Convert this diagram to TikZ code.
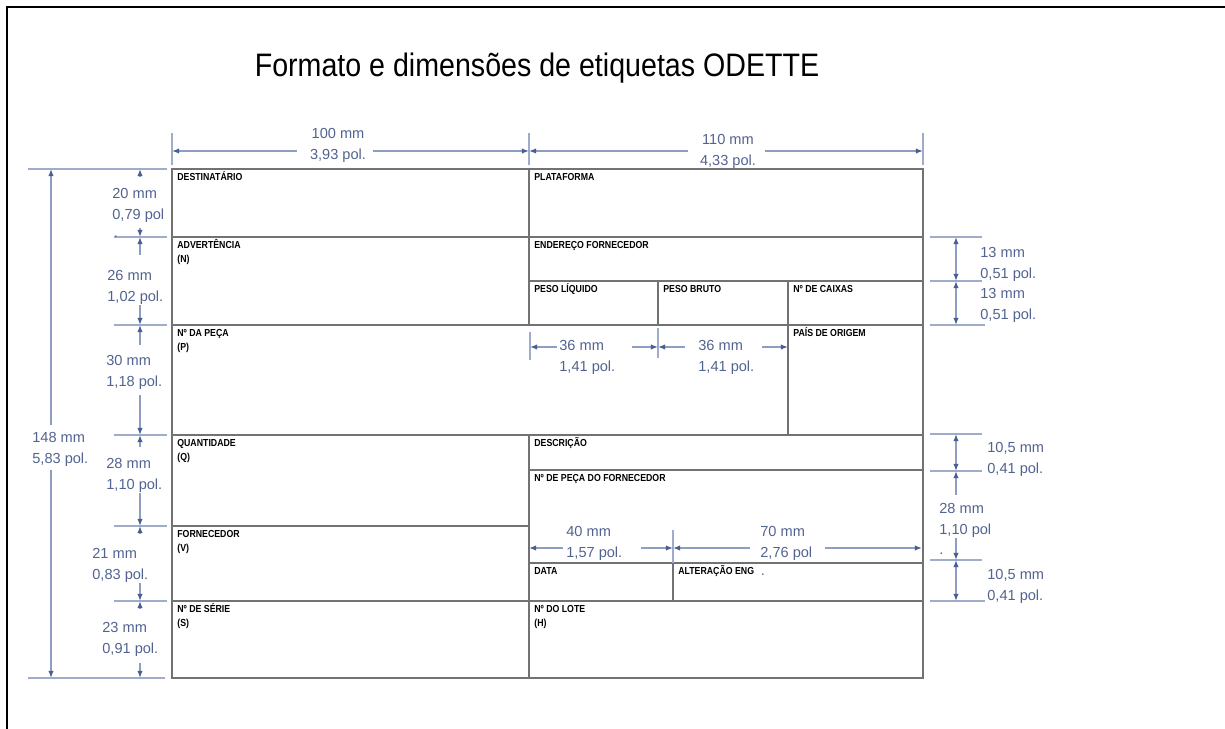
\documentclass[tikz,border=0pt]{standalone}
\usepackage{fontspec}
\setmainfont{Liberation Sans}
\newfontfamily\fieldfont{Liberation Sans}[FakeStretch=0.86]
\newfontfamily\headfont{Liberation Sans}[FakeStretch=0.88]
\usetikzlibrary{arrows.meta,calc,positioning}

\definecolor{cellgray}{HTML}{727272}
\definecolor{dimline}{HTML}{8E9DC1}
\definecolor{dimtip}{HTML}{4B5E92}
\definecolor{dimfont}{HTML}{52638F}

\tikzset{
  cell/.style={draw=cellgray,line width=1.2pt},
  field/.style={anchor=north west,inner sep=0pt,align=left,
    font=\fieldfont\bfseries\fontsize{5.8}{8}\selectfont},
  measure/.style={anchor=north west,inner sep=0pt,align=left,text=dimfont,
    font=\fontsize{8.3}{11.8}\selectfont},
  extline/.style={draw=dimline!85,line width=0.6pt},
  dimarrow/.style={draw=dimline,line width=0.7pt,
    -{Latex[length=4pt,width=3pt,color=dimtip]}},
  dimboth/.style={dimarrow,
    {Latex[length=4pt,width=3pt,color=dimtip]}-{Latex[length=4pt,width=3pt,color=dimtip]}}
}

\begin{document}
\begin{tikzpicture}[x=0.02cm,y=-0.02cm]
\useasboundingbox (0,0) rectangle (1225,729);

% page frame and title
\draw[line width=1.7pt] (7,735) -- (7,7) -- (1230,7);
\node[font=\headfont\fontsize{18.5}{22}\selectfont,anchor=base,inner sep=0pt]
  (title) at (537,77) {Formato e dimensões de etiquetas ODETTE};

% label grid
\coordinate (tl) at (172,169);
\coordinate (br) at (923,678);
\draw[cell] (tl) rectangle (br);
\foreach \ya/\xa/\xb in {237/172/923, 281/529/923, 325/172/923, 435/172/923,
                         470/529/923, 526/172/529, 563/529/923, 601/172/923}
  \draw[cell] (\xa,\ya) -- (\xb,\ya);
\foreach \xa/\ya/\yb in {529/169/325, 529/435/678, 658/281/325, 788/281/435, 673/563/601}
  \draw[cell] (\xa,\ya) -- (\xa,\yb);

% field names
\foreach \nm/\px/\py/\txt in {
    dest/172/169/DESTINATÁRIO, plat/529/169/PLATAFORMA,
    adv/172/237/{ADVERTÊNCIA\\(N)}, ender/529/237/ENDEREÇO FORNECEDOR,
    liq/529/281/PESO LÍQUIDO, bruto/658/281/PESO BRUTO, caixas/788/281/Nº DE CAIXAS,
    peca/172/325/{Nº DA PEÇA\\(P)}, pais/788/325/PAÍS DE ORIGEM,
    qtd/172/435/{QUANTIDADE\\(Q)}, descr/529/435/DESCRIÇÃO,
    pecaforn/529/470/Nº DE PEÇA DO FORNECEDOR, forn/172/526/{FORNECEDOR\\(V)},
    data/529/563/DATA, alter/673/563/ALTERAÇÃO ENG,
    serie/172/601/{Nº DE SÉRIE\\(S)}, lote/529/601/{Nº DO LOTE\\(H)}}
  \node[field] (\nm) at (\px+5,\py+1.5) {\strut\txt};

% extension lines
\draw[extline] (28,169) -- (167,169) (28,678) -- (165,678);
\foreach \ya in {237,325,435,526,601}
  \draw[extline] (114,\ya) -- (167,\ya);
\foreach \xa in {172,529,923}
  \draw[extline] (\xa,133) -- (\xa,165);
\foreach \ya in {237,281,434,471,560}
  \draw[extline] (930,\ya) -- (982,\ya);
\draw[extline] (930,325) -- (985,325) (930,601) -- (985,601);
\draw[extline] (530,332) -- (530,360) (658,328) -- (658,358) (673,530) -- (673,563);

% widths on top
\coordinate (t0) at (172,151);
\coordinate (t1) at (529,151);
\coordinate (t2) at (923,151);
\draw[dimarrow] ($(t0)+(125,0)$) -- (t0);
\draw[dimarrow] ($(t1)-(156,0)$) -- (t1);
\draw[dimarrow] ($(t1)+(159,0)$) -- (t1);
\draw[dimarrow] ($(t2)-(158,0)$) -- (t2);
\node[measure,anchor=north,align=center] (w100) at (338,128) {100 mm\\3,93 pol.};
\node[measure,anchor=north,align=center] (w110) at (728,134) {110 mm\\4,33 pol.};

% total height
\coordinate (o0) at (51,169);
\coordinate (o1) at (51,678);
\draw[dimarrow] ($(o0)+(0,256)$) -- (o0);
\draw[dimarrow] ($(o1)-(0,208)$) -- (o1);
\node[measure] (h148) at (32,432) {148 mm\\5,83 pol.};

% heights on the left
\foreach \ya [count=\i from 0] in {169,237,325,435,526,601,678}
  \coordinate (l\i) at (140,\ya);
\foreach \c/\d in {l0/8, l1/-9, l1/18, l2/-20, l2/20, l3/-40, l3/12,
                   l4/-33, l4/8, l5/-18, l5/8, l6/-15}
  \draw[dimarrow] ($(\c)+(0,\d)$) -- (\c);
\node[measure] (h20) at (112,188) {20 mm\\0,79 pol};
\node[measure] (h26) at (107,270) {26 mm\\1,02 pol.};
\node[measure] (h30) at (106,355) {30 mm\\1,18 pol.};
\node[measure] (h28) at (106,458) {28 mm\\1,10 pol.};
\node[measure] (h21) at (92,548) {21 mm\\0,83 pol.};
\node[measure] (h23) at (102,622) {23 mm\\0,91 pol.};
\node[measure,anchor=base] (advdot) at (116,238) {.};

% heights on the right
\foreach \ya [count=\i from 0] in {237,281,325,434,471,560,601}
  \coordinate (r\i) at (956,\ya);
\draw[dimboth] (r0) -- (r1);
\draw[dimboth] (r1) -- (r2);
\draw[dimboth] (r3) -- (r4);
\draw[dimboth] (r5) -- (r6);
\draw[dimarrow] ($(r4)+(0,24)$) -- (r4);
\draw[dimarrow] ($(r5)-(0,22)$) -- (r5);
\node[measure] (h13a) at (980,247) {13 mm\\0,51 pol.};
\node[measure] (h13b) at (980,288) {13 mm\\0,51 pol.};
\node[measure] (h10a) at (987,442) {10,5 mm\\0,41 pol.};
\node[measure] (h28r) at (939,503) {28 mm\\1,10 pol\\.};
\node[measure] (h10b) at (987,569) {10,5 mm\\0,41 pol.};

% widths inside the label
\coordinate (p0) at (530,347);
\coordinate (p1) at (658,347);
\coordinate (p2) at (788,347);
\draw[dimarrow] ($(p0)+(27,0)$) -- (p0);
\draw[dimarrow] ($(p1)-(26,0)$) -- (p1);
\draw[dimarrow] ($(p1)+(27,0)$) -- (p1);
\draw[dimarrow] ($(p2)-(26,0)$) -- (p2);
\node[measure] (w36a) at (559,340) {36 mm\\1,41 pol.};
\node[measure] (w36b) at (698,340) {36 mm\\1,41 pol.};

\coordinate (k0) at (529,548);
\coordinate (k1) at (673,548);
\coordinate (k2) at (922,548);
\draw[dimarrow] ($(k0)+(34,0)$) -- (k0);
\draw[dimarrow] ($(k1)-(32,0)$) -- (k1);
\draw[dimarrow] ($(k1)+(77,0)$) -- (k1);
\draw[dimarrow] ($(k2)-(97,0)$) -- (k2);
\node[measure] (w40) at (566,526) {40 mm\\1,57 pol.};
\node[measure] (w70) at (760,526) {70 mm\\2,76 pol};
\node[measure,anchor=base] (engdot) at (763,576) {.};
\end{tikzpicture}
\end{document}
